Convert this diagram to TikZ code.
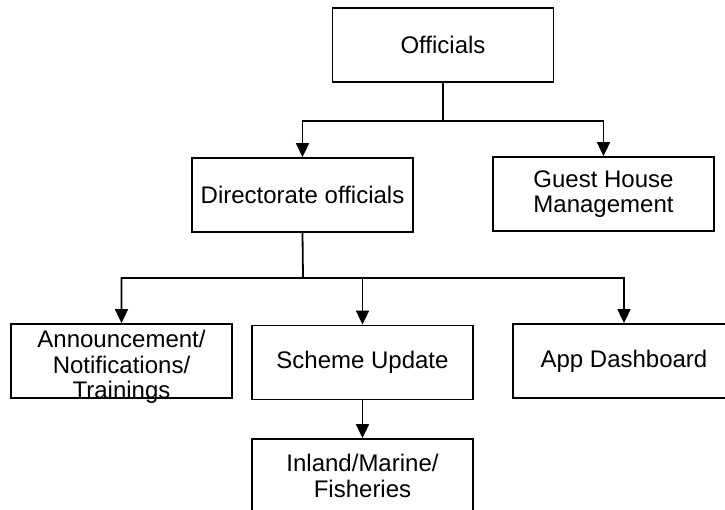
\documentclass[tikz,border=0pt]{standalone}
\usepackage{fontspec}
\setmainfont{Liberation Sans}
\usetikzlibrary{arrows.meta}
\tikzset{
  box/.style={draw, line width=.9pt, minimum width=110.5pt, minimum height=37pt, inner sep=2pt, align=center, font=\fontsize{12}{12.8}\selectfont},
  txt/.style={inner sep=0pt, align=center, font=\fontsize{12}{12.8}\selectfont},
  link/.style={line width=.9pt, -{Triangle[length=7pt,width=6.5pt]}}
}
\begin{document}
\begin{tikzpicture}[x=.5pt,y=-.5pt]
        \useasboundingbox (0,0) rectangle (725,510);
        \clip (0,0) rectangle (725,510);
        \node[box] (off) at (443,45) {Officials};
        \node[box] (dir) at (302.5,195) {Directorate officials};
        \node[box] (guest) at (603.5,194) {Guest House\\Management};
        \node[box] (ann) at (121.5,361) {};
        \node[txt] (annt) at (121.5,367) {Announcement/\\Notifications/\\Trainings};
        \node[box] (scheme) at (362.5,362.5) {Scheme Update};
        \node[box, minimum width=116pt] (app) at (629,361) {};
        \node[txt] (appt) at (624,361) {App Dashboard};
        \node[box] (inland) at (362.5,476) {Inland/Marine/\\Fisheries};
        \coordinate (split1) at (443,121);
        \coordinate (split2) at (303,278);
        \draw[link] (off.south) -- (split1) -| (dir.north);
        \draw[link] (split1) -| (guest.north);
        \draw[link] (dir.south) -- (split2) -| (ann.north);
        \draw[link] (split2) -| (scheme.north);
        \draw[link] (split2) -| (app.north -| appt);
        \draw[link] (scheme) -- (inland);
\end{tikzpicture}
\end{document}
